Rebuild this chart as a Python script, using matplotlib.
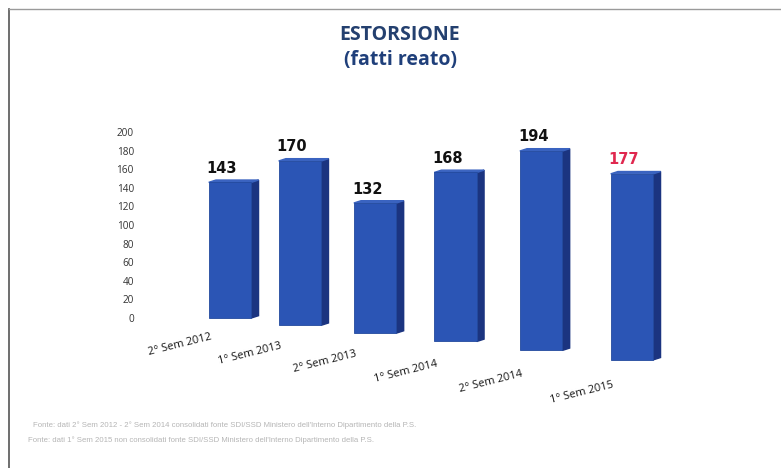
import matplotlib
matplotlib.use("Agg")
import matplotlib.pyplot as plt
from matplotlib.lines import Line2D
import numpy as np

# data
categories = ["2° Sem 2012", "1° Sem 2013", "2° Sem 2013",
              "1° Sem 2014", "2° Sem 2014", "1° Sem 2015"]
values = [143, 170, 132, 168, 194, 177]
label_colors = ["#111111"] * 5 + ["#e0284f"]
yticks = list(range(0, 201, 20))
footnotes = [
    "Fonte: dati 2° Sem 2012 - 2° Sem 2014 consolidati fonte SDI/SSD Ministero dell'Interno Dipartimento della P.S.",
    "Fonte: dati 1° Sem 2015 non consolidati fonte SDI/SSD Ministero dell'Interno Dipartimento della P.S.",
]

W, H = 781, 468
fig = plt.figure(figsize=(W / 100, H / 100), dpi=100)
fig.patch.set_facecolor("white")

# axes placed in pixels: 0 -> y=318, 200 -> y=132
left_px, right_px = 145, 700
top_px, bot_px = 132, 132 + 320 * 0.93
ax = fig.add_axes([left_px / W, 1 - bot_px / H,
                   (right_px - left_px) / W, (bot_px - top_px) / H])
ax.set_xlim(-(230 - left_px) / 80.4, (right_px - 230) / 80.4)
ax.set_ylim(-120, 200)

# fake 3D view: bars further right sit lower, wider apart and a bit taller
idx = np.arange(len(values))
pos = 0.8375 * idx + 0.0325 * idx ** 2
bases = -9.0 * pos
persp = 1.02 + 0.022 * pos
bw = 0.53
depth_x, depth_y = 0.09, 2.5

front = "#2b55b5"
side = "#1b3480"
top = "#3a63c0"

heights = np.array(values) * persp
ax.bar(pos, heights, width=bw, bottom=bases, color=front, edgecolor="#234a9e",
       linewidth=0.6, zorder=3)
for i, v in enumerate(values):
    h = heights[i]
    xr = pos[i] + bw / 2
    xl = pos[i] - bw / 2
    b = bases[i]
    ax.fill([xr, xr + depth_x, xr + depth_x, xr],
            [b, b + depth_y, b + h + depth_y, b + h], color=side, zorder=2)
    ax.fill([xl, xl + depth_x, xr + depth_x, xr],
            [b + h, b + h + depth_y, b + h + depth_y, b + h], color=top, zorder=2)
    ax.text(pos[i] - 0.1, b + h + 7, str(v), ha="center", va="bottom",
            fontsize=10.5, fontweight="bold", color=label_colors[i],
            family="DejaVu Sans")
    ax.text(pos[i] - 0.62, -29 - 10.2 * pos[i], categories[i], ha="center",
            va="center", rotation=14, fontsize=8, color="#151515",
            family="Open Sans")

ax.set_yticks(yticks)
ax.set_yticklabels([str(t) for t in yticks], fontsize=7.2, color="#333333",
                   family="Open Sans")
ax.tick_params(axis="y", length=0, pad=8)
ax.set_xticks([])
for s in ax.spines.values():
    s.set_visible(False)
ax.patch.set_alpha(0)

# title
fig.text(400 / W, 1 - 35 / H, "ESTORSIONE", ha="center", va="center",
         fontsize=14, fontweight="bold", color="#24406f", family="Open Sans")
fig.text(400 / W, 1 - 60 / H, "(fatti reato)", ha="center", va="center",
         fontsize=14, fontweight="bold", color="#1f3f7a", family="Open Sans")

# footnotes
fig.text(33 / W, 1 - 425 / H, footnotes[0], ha="left", va="center",
         fontsize=5.6, color="#b5b5b5", family="Liberation Sans")
fig.text(28 / W, 1 - 440 / H, footnotes[1], ha="left", va="center",
         fontsize=5.6, color="#b5b5b5", family="Liberation Sans")

# scanned frame
fig.add_artist(Line2D([9 / W, 9 / W], [1 - 9 / H, 0], color="#555555",
                      linewidth=1.2, transform=fig.transFigure))
fig.add_artist(Line2D([9 / W, 1], [1 - 9 / H, 1 - 9 / H], color="#9a9a9a",
                      linewidth=1.0, transform=fig.transFigure))

fig.savefig("out.png", dpi=100)
